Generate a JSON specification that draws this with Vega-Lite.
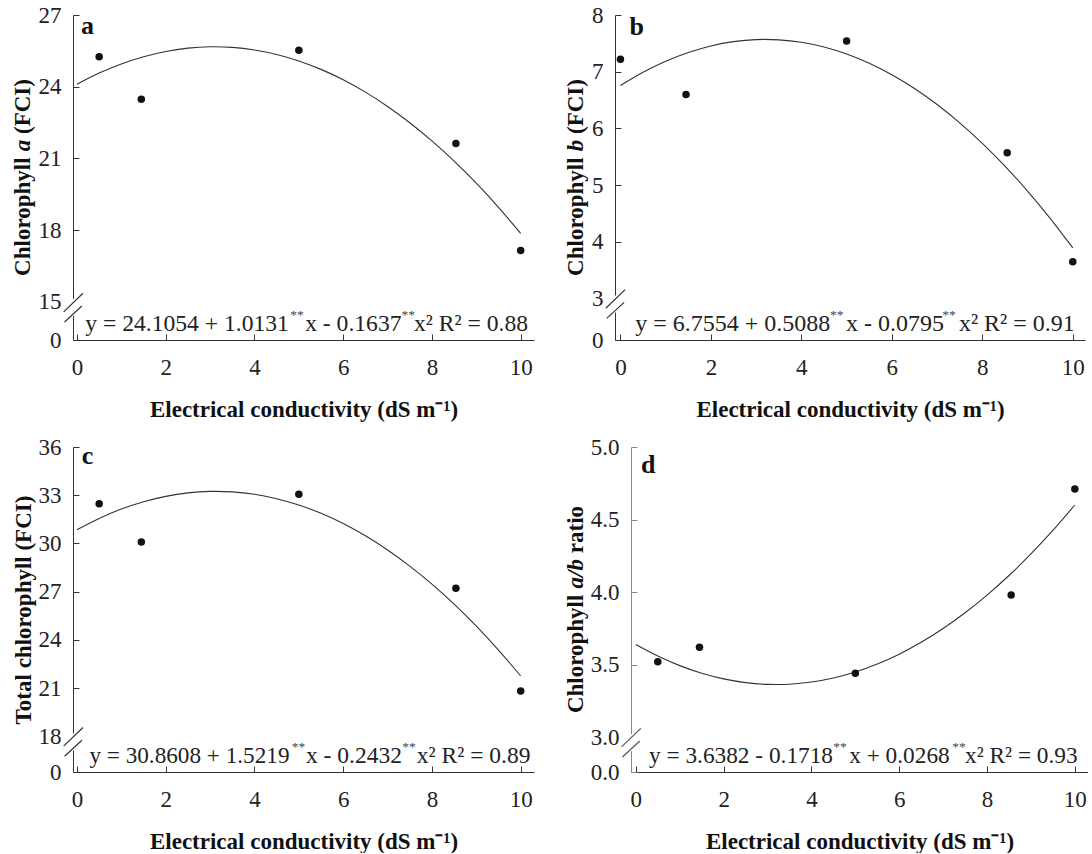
{
"$schema": "https://vega.github.io/schema/vega-lite/v6.json",
"padding": {"left": 11, "top": 4, "right": 0, "bottom": 0},
"datasets": {
"pa": [{"x":0.5,"y":25.25},{"x":1.45,"y":23.48},{"x":5,"y":25.53},{"x":8.54,"y":21.63},{"x":10,"y":17.15}],
"pb": [{"x":0,"y":7.22},{"x":1.45,"y":6.60},{"x":5,"y":7.54},{"x":8.55,"y":5.57},{"x":10,"y":3.65}],
"pc": [{"x":0.5,"y":32.47},{"x":1.45,"y":30.09},{"x":5,"y":33.06},{"x":8.54,"y":27.21},{"x":10,"y":20.82}],
"pd": [{"x":0.5,"y":3.52},{"x":1.45,"y":3.62},{"x":5,"y":3.44},{"x":8.55,"y":3.98},{"x":10,"y":4.71}],
"ca": [{"x":0,"y":24.1054},{"x":0.5,"y":24.5710},{"x":1,"y":24.9548},{"x":1.5,"y":25.2567},{"x":2,"y":25.4768},{"x":2.5,"y":25.6150},{"x":3,"y":25.6714},{"x":3.5,"y":25.6459},{"x":4,"y":25.5386},{"x":4.5,"y":25.3494},{"x":5,"y":25.0784},{"x":5.5,"y":24.7255},{"x":6,"y":24.2908},{"x":6.5,"y":23.7742},{"x":7,"y":23.1758},{"x":7.5,"y":22.4955},{"x":8,"y":21.7334},{"x":8.5,"y":20.8894},{"x":9,"y":19.9636},{"x":9.5,"y":18.9554},{"x":10,"y":17.8664}],
"cb": [{"x":0,"y":6.7554},{"x":0.5,"y":6.9899},{"x":1,"y":7.1847},{"x":1.5,"y":7.3397},{"x":2,"y":7.4550},{"x":2.5,"y":7.5305},{"x":3,"y":7.5663},{"x":3.5,"y":7.5623},{"x":4,"y":7.5186},{"x":4.5,"y":7.4351},{"x":5,"y":7.3119},{"x":5.5,"y":7.1489},{"x":6,"y":6.9462},{"x":6.5,"y":6.7037},{"x":7,"y":6.4215},{"x":7.5,"y":6.0995},{"x":8,"y":5.7378},{"x":8.5,"y":5.3363},{"x":9,"y":4.8951},{"x":9.5,"y":4.4141},{"x":10,"y":3.8934}],
"cc": [{"x":0,"y":30.8608},{"x":0.5,"y":31.5610},{"x":1,"y":32.1395},{"x":1.5,"y":32.5965},{"x":2,"y":32.9318},{"x":2.5,"y":33.1456},{"x":3,"y":33.2377},{"x":3.5,"y":33.2083},{"x":4,"y":33.0572},{"x":4.5,"y":32.7846},{"x":5,"y":32.3903},{"x":5.5,"y":31.8745},{"x":6,"y":31.2370},{"x":6.5,"y":30.4780},{"x":7,"y":29.5973},{"x":7.5,"y":28.5951},{"x":8,"y":27.4712},{"x":8.5,"y":26.2258},{"x":9,"y":24.8587},{"x":9.5,"y":23.3701},{"x":10,"y":21.7598}],
"cd": [{"x":0,"y":3.6382},{"x":0.5,"y":3.5590},{"x":1,"y":3.4932},{"x":1.5,"y":3.4408},{"x":2,"y":3.4018},{"x":2.5,"y":3.3762},{"x":3,"y":3.3640},{"x":3.5,"y":3.3652},{"x":4,"y":3.3798},{"x":4.5,"y":3.4078},{"x":5,"y":3.4492},{"x":5.5,"y":3.5040},{"x":6,"y":3.5722},{"x":6.5,"y":3.6538},{"x":7,"y":3.7488},{"x":7.5,"y":3.8572},{"x":8,"y":3.9790},{"x":8.5,"y":4.1142},{"x":9,"y":4.2628},{"x":9.5,"y":4.4248},{"x":10,"y":4.6002}],
"one": [{}]
},
"vconcat": [
{"hconcat": [
{"width": 461, "height": 325, "layer": [
 {"data": {"name": "ca"}, "mark": {"type": "line", "color": "#333", "strokeWidth": 1.1, "interpolate": "cardinal"},
  "encoding": {"x": {"field": "x", "type": "quantitative", "scale": {"domain": [-0.09, 10.3], "nice": false, "zero": false}, "axis": {"values": [0,2,4,6,8,10], "title": "Electrical conductivity (dS m⁻¹)"}},
   "y": {"field": "y", "type": "quantitative", "scale": {"domain": [13.406, 27], "nice": false, "zero": false}, "axis": {"values": [13.406,15,18,21,24,27], "labelExpr": "datum.value < 14 ? '0' : format(datum.value, 'd')", "title": null}}}},
 {"data": {"name": "pa"}, "mark": {"type": "circle", "size": 56, "color": "#111", "opacity": 1}, "encoding": {"x": {"field": "x", "type": "quantitative"}, "y": {"field": "y", "type": "quantitative"}}},
 {"data": {"name": "one"}, "mark": {"type": "rect", "color": "white"}, "encoding": {"x": {"datum": -0.158}, "x2": {"datum": 0.068}, "y": {"datum": 15.126}, "y2": {"datum": 14.414}}},
 {"data": {"name": "one"}, "mark": {"type": "rule", "color": "#333", "strokeWidth": 1.2}, "encoding": {"x": {"datum": -0.30}, "x2": {"datum": 0.135}, "y": {"datum": 14.58}, "y2": {"datum": 15.36}}},
 {"data": {"name": "one"}, "mark": {"type": "rule", "color": "#333", "strokeWidth": 1.2}, "encoding": {"x": {"datum": -0.28}, "x2": {"datum": 0.11}, "y": {"datum": 14.16}, "y2": {"datum": 14.83}}},
 {"data": {"name": "one"}, "mark": {"type": "text", "text": "Chlorophyll", "angle": 270, "fontSize": 23, "fontWeight": "bold", "align": "left", "baseline": "middle", "color": "#111"}, "encoding": {"x": {"datum": -1.217}, "y": {"datum": 16.087}}},
 {"data": {"name": "one"}, "mark": {"type": "text", "text": "a", "angle": 270, "fontSize": 23, "fontWeight": "bold", "fontStyle": "italic", "align": "left", "baseline": "middle", "color": "#111"}, "encoding": {"x": {"datum": -1.217}, "y": {"datum": 21.301}}},
 {"data": {"name": "one"}, "mark": {"type": "text", "text": "(FCI)", "angle": 270, "fontSize": 23, "fontWeight": "bold", "align": "left", "baseline": "middle", "color": "#111"}, "encoding": {"x": {"datum": -1.217}, "y": {"datum": 22.022}}},
 {"data": {"name": "one"}, "mark": {"type": "text", "text": "a", "fontSize": 26, "fontWeight": "bold", "align": "left", "baseline": "alphabetic", "color": "#111"}, "encoding": {"x": {"datum": 0.09}, "y": {"datum": 26.2}}},
 {"data": {"name": "one"}, "mark": {"type": "text", "text": "y = 24.1054 + 1.0131", "fontSize": 23.6, "align": "left", "baseline": "alphabetic", "color": "#222"}, "encoding": {"x": {"datum": 0.187}, "y": {"datum": 13.777}}},
 {"data": {"name": "one"}, "mark": {"type": "text", "text": "**", "fontSize": 13.5, "align": "left", "baseline": "alphabetic", "color": "#444"}, "encoding": {"x": {"datum": 4.804}, "y": {"datum": 14.28}}},
 {"data": {"name": "one"}, "mark": {"type": "text", "text": "x - 0.1637", "fontSize": 23.6, "align": "left", "baseline": "alphabetic", "color": "#222"}, "encoding": {"x": {"datum": 5.142}, "y": {"datum": 13.777}}},
 {"data": {"name": "one"}, "mark": {"type": "text", "text": "**", "fontSize": 13.5, "align": "left", "baseline": "alphabetic", "color": "#444"}, "encoding": {"x": {"datum": 7.315}, "y": {"datum": 14.28}}},
 {"data": {"name": "one"}, "mark": {"type": "text", "text": "x² R² = 0.88", "fontSize": 23.6, "align": "left", "baseline": "alphabetic", "color": "#222"}, "encoding": {"x": {"datum": 7.597}, "y": {"datum": 13.777}}}
]},
{"width": 470, "height": 325, "layer": [
 {"data": {"name": "cb"}, "mark": {"type": "line", "color": "#333", "strokeWidth": 1.1, "interpolate": "cardinal"},
  "encoding": {"x": {"field": "x", "type": "quantitative", "scale": {"domain": [-0.12, 10.27], "nice": false, "zero": false}, "axis": {"values": [0,2,4,6,8,10], "title": "Electrical conductivity (dS m⁻¹)"}},
   "y": {"field": "y", "type": "quantitative", "scale": {"domain": [2.27, 8], "nice": false, "zero": false}, "axis": {"values": [2.27,3,4,5,6,7,8], "labelExpr": "datum.value < 2.5 ? '0' : format(datum.value, 'd')", "title": null}}}},
 {"data": {"name": "pb"}, "mark": {"type": "circle", "size": 56, "color": "#111", "opacity": 1}, "encoding": {"x": {"field": "x", "type": "quantitative"}, "y": {"field": "y", "type": "quantitative"}}},
 {"data": {"name": "one"}, "mark": {"type": "rect", "color": "white"}, "encoding": {"x": {"datum": -0.183}, "x2": {"datum": 0.038}, "y": {"datum": 3.054}, "y2": {"datum": 2.754}}},
 {"data": {"name": "one"}, "mark": {"type": "rule", "color": "#333", "strokeWidth": 1.2}, "encoding": {"x": {"datum": -0.323}, "x2": {"datum": 0.104}, "y": {"datum": 2.830}, "y2": {"datum": 3.158}}},
 {"data": {"name": "one"}, "mark": {"type": "rule", "color": "#333", "strokeWidth": 1.2}, "encoding": {"x": {"datum": -0.303}, "x2": {"datum": 0.080}, "y": {"datum": 2.651}, "y2": {"datum": 2.934}}},
 {"data": {"name": "one"}, "mark": {"type": "text", "text": "Chlorophyll", "angle": 270, "fontSize": 23, "fontWeight": "bold", "align": "left", "baseline": "middle", "color": "#111"}, "encoding": {"x": {"datum": -0.982}, "y": {"datum": 3.400}}},
 {"data": {"name": "one"}, "mark": {"type": "text", "text": "b", "angle": 270, "fontSize": 23, "fontWeight": "bold", "fontStyle": "italic", "align": "left", "baseline": "middle", "color": "#111"}, "encoding": {"x": {"datum": -0.982}, "y": {"datum": 5.598}}},
 {"data": {"name": "one"}, "mark": {"type": "text", "text": "(FCI)", "angle": 270, "fontSize": 23, "fontWeight": "bold", "align": "left", "baseline": "middle", "color": "#111"}, "encoding": {"x": {"datum": -0.982}, "y": {"datum": 5.902}}},
 {"data": {"name": "one"}, "mark": {"type": "text", "text": "b", "fontSize": 26, "fontWeight": "bold", "align": "left", "baseline": "alphabetic", "color": "#111"}, "encoding": {"x": {"datum": 0.2}, "y": {"datum": 7.65}}},
 {"data": {"name": "one"}, "mark": {"type": "text", "text": "y = 6.7554 + 0.5088", "fontSize": 24, "align": "left", "baseline": "alphabetic", "color": "#222"}, "encoding": {"x": {"datum": 0.325}, "y": {"datum": 2.429}}},
 {"data": {"name": "one"}, "mark": {"type": "text", "text": "**", "fontSize": 13.5, "align": "left", "baseline": "alphabetic", "color": "#444"}, "encoding": {"x": {"datum": 4.632}, "y": {"datum": 2.64}}},
 {"data": {"name": "one"}, "mark": {"type": "text", "text": "x - 0.0795", "fontSize": 24, "align": "left", "baseline": "alphabetic", "color": "#222"}, "encoding": {"x": {"datum": 4.986}, "y": {"datum": 2.429}}},
 {"data": {"name": "one"}, "mark": {"type": "text", "text": "**", "fontSize": 13.5, "align": "left", "baseline": "alphabetic", "color": "#444"}, "encoding": {"x": {"datum": 7.117}, "y": {"datum": 2.64}}},
 {"data": {"name": "one"}, "mark": {"type": "text", "text": "x² R² = 0.91", "fontSize": 24, "align": "left", "baseline": "alphabetic", "color": "#222"}, "encoding": {"x": {"datum": 7.482}, "y": {"datum": 2.429}}}
]}
], "spacing": 81, "bounds": "flush"},
{"hconcat": [
{"width": 461, "height": 325, "layer": [
 {"data": {"name": "cc"}, "mark": {"type": "line", "color": "#333", "strokeWidth": 1.1, "interpolate": "cardinal"},
  "encoding": {"x": {"field": "x", "type": "quantitative", "scale": {"domain": [-0.09, 10.3], "nice": false, "zero": false}, "axis": {"values": [0,2,4,6,8,10], "title": "Electrical conductivity (dS m⁻¹)"}},
   "y": {"field": "y", "type": "quantitative", "scale": {"domain": [15.79, 36], "nice": false, "zero": false}, "axis": {"values": [15.79,18,21,24,27,30,33,36], "labelExpr": "datum.value < 17 ? '0' : format(datum.value, 'd')", "title": "Total chlorophyll (FCI)", "titleX": -50}}}},
 {"data": {"name": "pc"}, "mark": {"type": "circle", "size": 56, "color": "#111", "opacity": 1}, "encoding": {"x": {"field": "x", "type": "quantitative"}, "y": {"field": "y", "type": "quantitative"}}},
 {"data": {"name": "one"}, "mark": {"type": "rect", "color": "white"}, "encoding": {"x": {"datum": -0.158}, "x2": {"datum": 0.068}, "y": {"datum": 18.19}, "y2": {"datum": 17.13}}},
 {"data": {"name": "one"}, "mark": {"type": "rule", "color": "#333", "strokeWidth": 1.2}, "encoding": {"x": {"datum": -0.30}, "x2": {"datum": 0.135}, "y": {"datum": 17.40}, "y2": {"datum": 18.557}}},
 {"data": {"name": "one"}, "mark": {"type": "rule", "color": "#333", "strokeWidth": 1.2}, "encoding": {"x": {"datum": -0.279}, "x2": {"datum": 0.11}, "y": {"datum": 16.771}, "y2": {"datum": 17.767}}},
 {"data": {"name": "one"}, "mark": {"type": "text", "text": "c", "fontSize": 26, "fontWeight": "bold", "align": "left", "baseline": "alphabetic", "color": "#111"}, "encoding": {"x": {"datum": 0.11}, "y": {"datum": 34.92}}},
 {"data": {"name": "one"}, "mark": {"type": "text", "text": "y = 30.8608 + 1.5219", "fontSize": 23.2, "align": "left", "baseline": "alphabetic", "color": "#222"}, "encoding": {"x": {"datum": 0.28}, "y": {"datum": 16.35}}},
 {"data": {"name": "one"}, "mark": {"type": "text", "text": "**", "fontSize": 13.5, "align": "left", "baseline": "alphabetic", "color": "#444"}, "encoding": {"x": {"datum": 4.84}, "y": {"datum": 17.10}}},
 {"data": {"name": "one"}, "mark": {"type": "text", "text": "x - 0.2432", "fontSize": 23.5, "align": "left", "baseline": "alphabetic", "color": "#222"}, "encoding": {"x": {"datum": 5.16}, "y": {"datum": 16.35}}},
 {"data": {"name": "one"}, "mark": {"type": "text", "text": "**", "fontSize": 13.5, "align": "left", "baseline": "alphabetic", "color": "#444"}, "encoding": {"x": {"datum": 7.33}, "y": {"datum": 17.10}}},
 {"data": {"name": "one"}, "mark": {"type": "text", "text": "x² R² = 0.89", "fontSize": 23.5, "align": "left", "baseline": "alphabetic", "color": "#222"}, "encoding": {"x": {"datum": 7.66}, "y": {"datum": 16.35}}}
]},
{"width": 457, "height": 325, "layer": [
 {"data": {"name": "cd"}, "mark": {"type": "line", "color": "#333", "strokeWidth": 1.1, "interpolate": "cardinal"},
  "encoding": {"x": {"field": "x", "type": "quantitative", "scale": {"domain": [-0.11, 10.3], "nice": false, "zero": false}, "axis": {"values": [0,2,4,6,8,10], "title": "Electrical conductivity (dS m⁻¹)"}},
   "y": {"field": "y", "type": "quantitative", "scale": {"domain": [2.76, 5], "nice": false, "zero": false}, "axis": {"values": [2.76,3,3.5,4,4.5,5], "labelExpr": "datum.value < 2.9 ? '0.0' : format(datum.value, '.1f')", "title": null, "domainColor": "#888", "tickColor": "#888"}}}},
 {"data": {"name": "pd"}, "mark": {"type": "circle", "size": 56, "color": "#111", "opacity": 1}, "encoding": {"x": {"field": "x", "type": "quantitative"}, "y": {"field": "y", "type": "quantitative"}}},
 {"data": {"name": "one"}, "mark": {"type": "rect", "color": "white"}, "encoding": {"x": {"datum": -0.182}, "x2": {"datum": 0.046}, "y": {"datum": 3.021}, "y2": {"datum": 2.903}}},
 {"data": {"name": "one"}, "mark": {"type": "rule", "color": "#555", "strokeWidth": 1.2}, "encoding": {"x": {"datum": -0.326}, "x2": {"datum": 0.114}, "y": {"datum": 2.933}, "y2": {"datum": 3.061}}},
 {"data": {"name": "one"}, "mark": {"type": "rule", "color": "#555", "strokeWidth": 1.2}, "encoding": {"x": {"datum": -0.305}, "x2": {"datum": 0.089}, "y": {"datum": 2.863}, "y2": {"datum": 2.974}}},
 {"data": {"name": "one"}, "mark": {"type": "text", "text": "Chlorophyll", "angle": 270, "fontSize": 23, "fontWeight": "bold", "align": "left", "baseline": "middle", "color": "#111"}, "encoding": {"x": {"datum": -1.363}, "y": {"datum": 3.166}}},
 {"data": {"name": "one"}, "mark": {"type": "text", "text": "a/b", "angle": 270, "fontSize": 23, "fontWeight": "bold", "fontStyle": "italic", "align": "left", "baseline": "middle", "color": "#111"}, "encoding": {"x": {"datum": -1.363}, "y": {"datum": 4.025}}},
 {"data": {"name": "one"}, "mark": {"type": "text", "text": "ratio", "angle": 270, "fontSize": 23, "fontWeight": "bold", "align": "left", "baseline": "middle", "color": "#111"}, "encoding": {"x": {"datum": -1.363}, "y": {"datum": 4.268}}},
 {"data": {"name": "one"}, "mark": {"type": "text", "text": "d", "fontSize": 26, "fontWeight": "bold", "align": "left", "baseline": "alphabetic", "color": "#111"}, "encoding": {"x": {"datum": 0.12}, "y": {"datum": 4.823}}},
 {"data": {"name": "one"}, "mark": {"type": "text", "text": "y = 3.6382 - 0.1718", "fontSize": 23.3, "align": "left", "baseline": "alphabetic", "color": "#222"}, "encoding": {"x": {"datum": 0.30}, "y": {"datum": 2.822}}},
 {"data": {"name": "one"}, "mark": {"type": "text", "text": "**", "fontSize": 13.5, "align": "left", "baseline": "alphabetic", "color": "#444"}, "encoding": {"x": {"datum": 4.495}, "y": {"datum": 2.905}}},
 {"data": {"name": "one"}, "mark": {"type": "text", "text": "x + 0.0268", "fontSize": 23.3, "align": "left", "baseline": "alphabetic", "color": "#222"}, "encoding": {"x": {"datum": 4.86}, "y": {"datum": 2.822}}},
 {"data": {"name": "one"}, "mark": {"type": "text", "text": "**", "fontSize": 13.5, "align": "left", "baseline": "alphabetic", "color": "#444"}, "encoding": {"x": {"datum": 7.21}, "y": {"datum": 2.905}}},
 {"data": {"name": "one"}, "mark": {"type": "text", "text": "x² R² = 0.93", "fontSize": 23.3, "align": "left", "baseline": "alphabetic", "color": "#222"}, "encoding": {"x": {"datum": 7.50}, "y": {"datum": 2.822}}}
]}
], "spacing": 97, "bounds": "flush"}
],
"spacing": 15,
"config": {
 "view": {"stroke": null},
 "font": "Liberation Serif, Times New Roman, Times, serif",
 "text": {"font": "Liberation Serif, Times New Roman, Times, serif"},
 "axis": {"grid": false, "domainColor": "#333", "tickColor": "#333", "tickSize": -6, "labelFont": "Liberation Serif, Times New Roman, Times, serif", "labelFontSize": 23, "labelColor": "#222", "titleFont": "Liberation Serif, Times New Roman, Times, serif", "titleFontSize": 23, "titleFontWeight": "bold", "titleColor": "#111", "labelFlush": false, "labelOverlap": false},
 "axisX": {"labelPadding": 40, "labelBaseline": "alphabetic", "titleY": 76, "titleBaseline": "alphabetic"},
 "axisY": {"labelPadding": 18, "titleBaseline": "middle"}
}
}
